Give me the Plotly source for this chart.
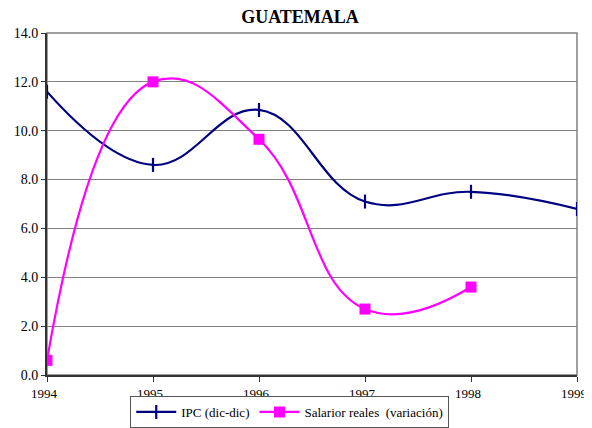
import plotly.graph_objects as go

# Data
years = [1994, 1995, 1996, 1997, 1998, 1999]
ipc = [11.6, 8.6, 10.85, 7.1, 7.5, 6.8]
salarios_years = [1994, 1995, 1996, 1997, 1998]
salarios = [0.6, 12.0, 9.65, 2.7, 3.6]

y_ticks = [0, 2, 4, 6, 8, 10, 12, 14]

SERIF = 'Times New Roman, Liberation Serif, serif'

fig = go.Figure()

fig.add_trace(go.Scatter(
    x=years, y=ipc,
    name='IPC (dic-dic)',
    mode='lines+markers',
    line=dict(color='#000080', width=2.2, shape='spline', smoothing=1.2),
    marker=dict(symbol='line-ns', size=10, line=dict(color='#000080', width=2.2)),
))

fig.add_trace(go.Scatter(
    x=salarios_years, y=salarios,
    name='Salarior reales  (variación)',
    mode='lines+markers',
    line=dict(color='#ff00ff', width=2.2, shape='spline', smoothing=1.3),
    marker=dict(symbol='square', size=11, color='#ff00ff'),
))

# the page body keeps an 8px margin, so the figure is sized to fit the window
fig.update_layout(
    template='none',
    width=584, height=420,
    title=dict(
        text='<b>GUATEMALA</b>',
        x=0.5, xanchor='center', xref='container',
        y=0.98, yanchor='middle', yref='container',
        font=dict(family=SERIF, size=18, color='black'),
    ),
    font=dict(family=SERIF, size=14, color='black'),
    margin=dict(l=39, r=15, t=25, b=53),
    paper_bgcolor='white',
    plot_bgcolor='white',
    showlegend=True,
    legend=dict(
        orientation='h',
        xref='paper', x=0.458, xanchor='center',
        yref='container', y=0.0, yanchor='bottom',
        bordercolor='#555555', borderwidth=1,
        font=dict(family=SERIF, size=13),
        itemwidth=40,
    ),
    xaxis=dict(
        range=[1994, 1999],
        tickvals=years,
        automargin=False,
        ticklabeloverflow='allow',
        ticklabelshift=-3,
        tickfont=dict(family=SERIF, size=13),
        ticks='outside', ticklen=5, tickcolor='#333333',
        showline=True, linecolor='#333333', linewidth=2,
        mirror=False, showgrid=False, zeroline=False,
    ),
    yaxis=dict(
        range=[0, 14],
        tickvals=y_ticks,
        tickformat='.1f',
        automargin=False,
        tickfont=dict(family=SERIF, size=14),
        ticks='outside', ticklen=4, tickcolor='#333333',
        showline=True, linecolor='#333333', linewidth=2,
        showgrid=True, gridcolor='#808080', gridwidth=1, zeroline=False,
    ),
    shapes=[dict(
        type='rect', xref='paper', yref='paper', x0=0, y0=0, x1=1, y1=1,
        line=dict(color='#808080', width=1.5), layer='below',
    )],
)

fig.write_html("out.html")
